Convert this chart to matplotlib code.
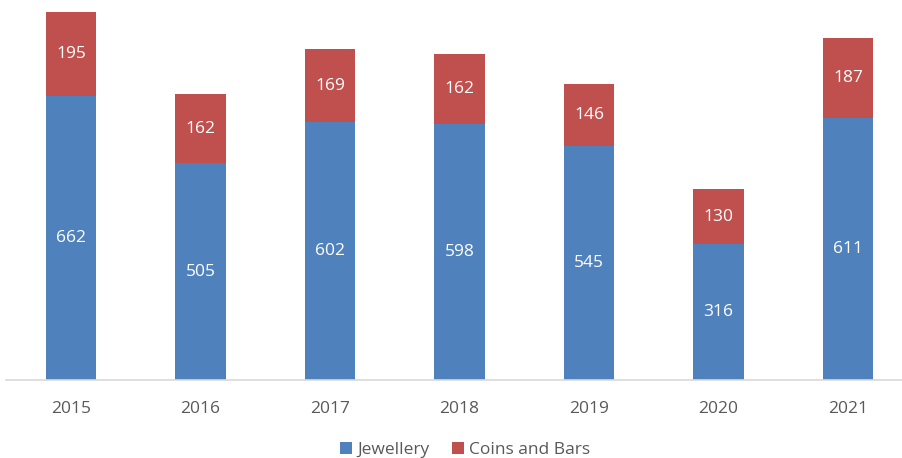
import matplotlib.pyplot as plt
import numpy as np

# === Data ===
years = ["2015", "2016", "2017", "2018", "2019", "2020", "2021"]
jewellery = [662, 505, 602, 598, 545, 316, 611]
coins_bars = [195, 162, 169, 162, 146, 130, 187]

blue = "#4F81BD"
red = "#C0504D"

plt.rcParams["font.family"] = ["Open Sans", "DejaVu Sans"]

fig = plt.figure(figsize=(9.03, 4.58), dpi=100)
ax = fig.add_axes([6.25 / 903, 78 / 458, 906.5 / 903, 380 / 458])

x = np.arange(len(years))
w = 0.39
ax.bar(x, jewellery, width=w, color=blue, label="Jewellery")
ax.bar(x, coins_bars, width=w, bottom=jewellery, color=red, label="Coins and Bars")

# value labels in the middle of each segment
for i in range(len(years)):
    ax.text(x[i], jewellery[i] / 2, str(jewellery[i]), ha="center", va="center",
            color="white", fontsize=12.5)
    ax.text(x[i], jewellery[i] + coins_bars[i] / 2, str(coins_bars[i]), ha="center",
            va="center", color="white", fontsize=12.5)

ax.set_xlim(-0.5, len(years) - 0.5)
ax.set_ylim(0, 886)
ax.set_xticks(x)
ax.set_xticklabels(years, fontsize=12.5, color="#595959")
ax.tick_params(axis="x", length=0, pad=15)
ax.set_yticks([])
for side in ["top", "right", "left"]:
    ax.spines[side].set_visible(False)
ax.spines["bottom"].set_color("#D9D9D9")
ax.spines["bottom"].set_linewidth(1.2)

fig.legend(loc="center", bbox_to_anchor=(465 / 903, 1 - 450 / 458), ncol=2,
           frameon=False, fontsize=12.5, labelcolor="#595959",
           handlelength=0.7, handleheight=0.7, handletextpad=0.3, columnspacing=1.3)

fig.savefig("out.png", dpi=100)
